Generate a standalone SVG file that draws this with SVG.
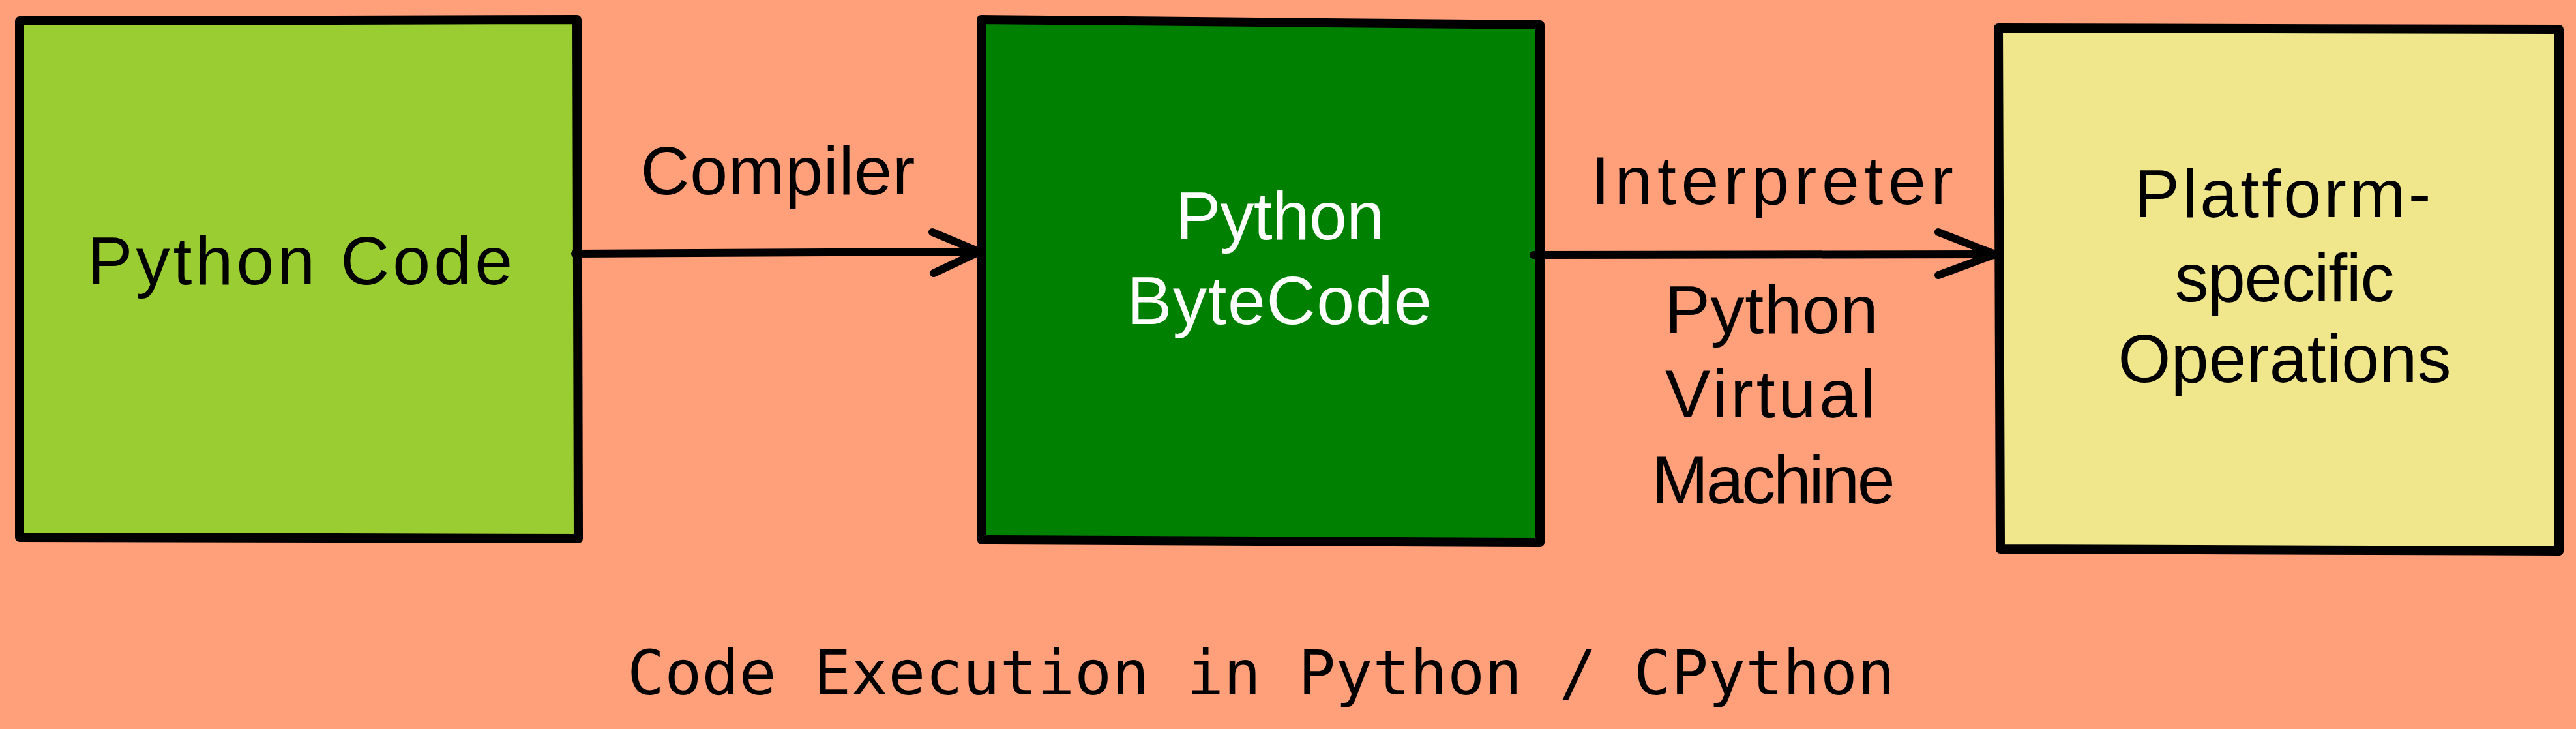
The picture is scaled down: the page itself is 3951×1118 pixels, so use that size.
<svg xmlns="http://www.w3.org/2000/svg" width="3951" height="1118" viewBox="0 0 3951 1118">
<style>
.box{stroke:#000;stroke-width:14;stroke-linejoin:round;stroke-linecap:round}
.conn{fill:none;stroke:#000;stroke-width:12;stroke-linecap:round;stroke-linejoin:round}
.hand{font-family:"Liberation Sans","DejaVu Sans",sans-serif;font-size:104px;text-anchor:middle;fill:#000}
.white{fill:#fff}
.title{font-family:"DejaVu Sans Mono","Liberation Mono",monospace;font-size:95px;fill:#000}
</style>
<rect x="0" y="0" width="3951" height="1118" fill="#FFA07A"/>
<g id="node-python-code">
<path class="box" fill="#9ACD32" d="M30,32 L885,30 L887,826 L30,824 Z"/>
<text class="hand" x="460" y="436" textLength="652" lengthAdjust="spacing">Python Code</text>
</g>
<g id="node-bytecode">
<path class="box" fill="#008000" d="M1505,30 L2362,38 L2362,832 L1506,828 Z"/>
<text class="hand white" x="1963" y="367" textLength="320" lengthAdjust="spacing">Python</text>
<text class="hand white" x="1962" y="497" textLength="468" lengthAdjust="spacing">ByteCode</text>
</g>
<g id="node-platform">
<path class="box" fill="#F0E68C" d="M3065,43 L3925,45 L3925,845 L3068,842 Z"/>
<text class="hand" x="3501" y="333" textLength="455" lengthAdjust="spacing">Platform-</text>
<text class="hand" x="3504" y="462" textLength="337" lengthAdjust="spacing">specific</text>
<text class="hand" x="3504" y="586" textLength="511" lengthAdjust="spacing">Operations</text>
</g>
<g id="connectors">
<path class="conn" d="M882,389 L1502,386"/>
<path class="conn" d="M1430,356 L1502,386 L1432,419"/>
<path class="conn" d="M2352,391 L3060,390"/>
<path class="conn" d="M2973,356 L3060,390 L2973,422"/>
</g>
<g id="labels">
<text class="hand" x="1193" y="298" textLength="421" lengthAdjust="spacing">Compiler</text>
<text class="hand" x="2718" y="313" textLength="556" lengthAdjust="spacing">Interpreter</text>
<text class="hand" x="2717" y="511" textLength="327" lengthAdjust="spacing">Python</text>
<text class="hand" x="2715" y="640" textLength="322" lengthAdjust="spacing">Virtual</text>
<text class="hand" x="2720" y="772" textLength="373" lengthAdjust="spacing">Machine</text>
</g>
<text id="title" class="title" x="962" y="1065" textLength="1944" lengthAdjust="spacingAndGlyphs">Code Execution in Python / CPython</text>
</svg>
